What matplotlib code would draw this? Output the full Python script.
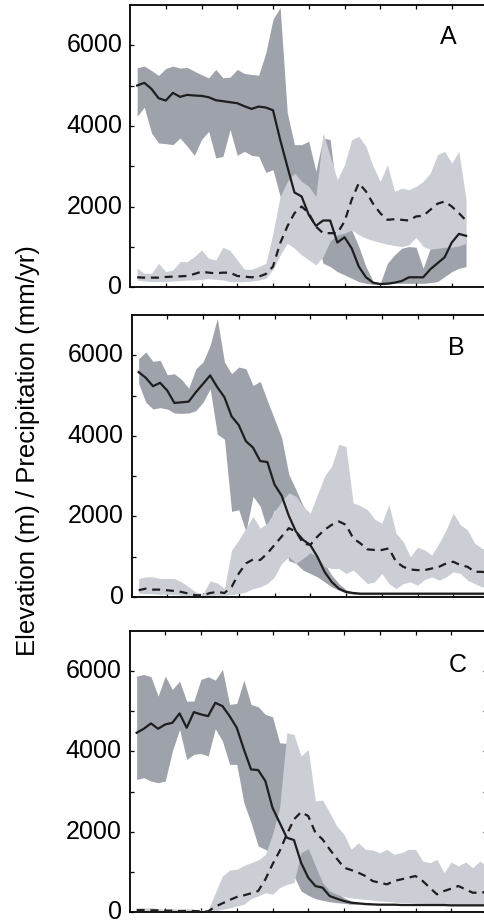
#!/usr/bin/env python3
"""
Swath profiles: elevation (solid, dark band) and precipitation (dashed, light band)
for three transects A, B, C.
"""

import numpy as np
import matplotlib

matplotlib.use("Agg")
import matplotlib.pyplot as plt

plt.rcParams["font.family"] = ["Liberation Sans", "DejaVu Sans"]

# sample positions along the swath (no axis labels in the original)
dist_a = np.arange(1, 48) * 0.2
dist_bc = np.arange(1, 51) * 0.2

# ---- panel A ----
elev_a = [5005, 5071, 4922, 4690, 4632, 4823, 4724, 4773, 4757, 4748,
          4715, 4641, 4616, 4591, 4566, 4492, 4425, 4483, 4459, 4393,
          3664, 3001, 2355, 2256, 1801, 1528, 1660, 1660, 1114, 1246,
          973, 518, 253, 120, 87, 95, 120, 161, 253, 253,
          253, 451, 600, 749, 1114, 1329, 1280]
elev_a_hi = [5445, 5486, 5378, 5254, 5428, 5486, 5436, 5453, 5362, 5271,
             5196, 5403, 5196, 5213, 5403, 5304, 5279, 5262, 5817, 6645,
             6935, 4327, 3540, 3540, 3623, 2877, 3705, 3664, 2173, 1428,
             1428, 1014, 518, 150, 104, 600, 807, 973, 1014, 998,
             476, 973, 1139, 1164, 1263, 1380, 1346]
elev_a_lo = [4244, 4467, 3830, 3581, 3565, 3540, 3705, 3498, 3275, 3664,
             3871, 3209, 3250, 3912, 3275, 3374, 3275, 3250, 2852, 2918,
             2256, 2173, 2173, 2132, 1500, 1300, 600, 518, 393, 311,
             228, 145, 104, 79, 62, 79, 104, 104, 104, 104,
             104, 120, 145, 269, 393, 476, 518]
prec_a = [253, 244, 244, 244, 261, 269, 277, 286, 335, 393,
          368, 352, 368, 368, 286, 269, 253, 269, 335, 518,
          1097, 1511, 1842, 2008, 1842, 1511, 1346, 1346, 1346, 1635,
          2173, 2587, 2381, 2075, 1842, 1677, 1693, 1677, 1660, 1760,
          1776, 1925, 2075, 2132, 2008, 1842, 1660]
prec_a_hi = [476, 352, 352, 600, 393, 435, 642, 642, 766, 931,
             724, 683, 998, 915, 683, 451, 451, 518, 600, 1346,
             2256, 2629, 2836, 2629, 2505, 2256, 3829, 3250, 2670, 3043,
             3664, 3747, 3498, 3001, 2629, 3043, 2381, 2463, 2422, 2505,
             2629, 2836, 3291, 3374, 3084, 3374, 2173]
prec_a_lo = [186, 161, 145, 145, 145, 161, 170, 186, 186, 203,
             220, 203, 186, 145, 145, 145, 161, 186, 228, 450,
             800, 1100, 973, 807, 683, 559, 766, 1150, 1304, 1346,
             1428, 1304, 1222, 1164, 1114, 1073, 1040, 1014, 1056, 1246,
             1014, 948, 973, 998, 998, 1031, 1098]

# ---- panel B ----
elev_b = [5583, 5441, 5233, 5316, 5125, 4817, 4833, 4850, 5083, 5291,
          5500, 5208, 4958, 4483, 4267, 3867, 3708, 3375, 3350, 2792,
          2517, 2017, 1625, 1417, 1292, 1000, 625, 375, 208, 125,
          100, 83, 83, 83, 83, 83, 83, 83, 83, 83,
          83, 83, 83, 83, 83, 83, 83, 83, 83, 83]
elev_b_hi = [5917, 6083, 5850, 5875, 5517, 5542, 5400, 5183, 5667, 5833,
             6250, 6917, 5833, 5542, 5708, 5667, 5250, 5350, 4875, 4417,
             3958, 3042, 2667, 2267, 2000, 1333, 833, 542, 333, 183,
             120, 100, 100, 100, 100, 100, 100, 100, 100, 100,
             100, 100, 100, 100, 100, 100, 100, 100, 100, 100]
elev_b_lo = [5300, 4833, 4667, 4700, 4667, 4567, 4558, 4567, 4625, 4833,
             5167, 4042, 3917, 2125, 2167, 1625, 2500, 2250, 1667, 2167,
             1625, 900, 833, 667, 583, 500, 375, 250, 167, 100,
             67, 58, 58, 58, 58, 58, 58, 58, 58, 58,
             58, 58, 58, 58, 58, 58, 58, 58, 58, 58]
prec_b = [167, 208, 183, 183, 167, 150, 125, 83, 42, 42,
          100, 125, 100, 250, 583, 833, 933, 917, 1083, 1292,
          1500, 1708, 1625, 1333, 1292, 1500, 1667, 1792, 1875, 1792,
          1458, 1333, 1183, 1167, 1167, 1208, 875, 750, 683, 667,
          667, 708, 750, 833, 875, 792, 750, 625, 625, 600]
prec_b_hi = [458, 500, 500, 458, 458, 458, 375, 250, 125, 83,
             400, 350, 208, 1167, 1417, 1708, 2000, 1708, 1833, 2125,
             2375, 2583, 2500, 2250, 2083, 2542, 3000, 3250, 3792, 3733,
             2333, 2267, 2167, 1933, 1833, 2292, 1583, 1375, 1000, 1233,
             1167, 1042, 1333, 1667, 2083, 1792, 1667, 1333, 1208, 1167]
prec_b_lo = [100, 83, 83, 67, 67, 58, 42, 33, 25, 17,
             33, 42, 42, 58, 83, 125, 208, 250, 333, 500,
             833, 1000, 833, 958, 1100, 1000, 750, 708, 708, 583,
             667, 500, 333, 375, 583, 333, 208, 333, 375, 292,
             433, 500, 417, 500, 625, 583, 417, 333, 250, 233]

# ---- panel C ----
elev_c = [4465, 4565, 4698, 4565, 4673, 4714, 4947, 4590, 4980, 4922,
          4880, 5212, 5129, 4880, 4590, 4050, 3552, 3536, 3262, 2598,
          2224, 1851, 1793, 1228, 855, 647, 606, 398, 332, 274,
          232, 216, 199, 191, 183, 183, 183, 174, 174, 174,
          174, 174, 174, 174, 166, 166, 166, 166, 166, 166]
elev_c_hi = [5876, 5918, 5860, 5378, 5876, 5544, 5752, 5254, 5254, 5793,
             5860, 5777, 6042, 5171, 5196, 5777, 5171, 5113, 4922, 4864,
             4216, 4200, 2971, 2141, 1643, 1311, 979, 647, 481, 357,
             274, 240, 220, 210, 200, 200, 200, 190, 190, 190,
             190, 190, 190, 190, 180, 180, 180, 180, 180, 180]
elev_c_lo = [3303, 3345, 3262, 3220, 3262, 4009, 4548, 3801, 3926, 3951,
             3884, 4565, 4258, 3677, 3677, 2722, 2224, 1643, 1560, 1477,
             1311, 1145, 896, 523, 415, 332, 290, 257, 232, 216,
             191, 190, 180, 175, 170, 170, 170, 160, 160, 160,
             160, 160, 160, 160, 155, 155, 155, 155, 155, 155]
prec_c = [50, 50, 42, 42, 33, 33, 25, 25, 25, 17,
          17, 133, 216, 299, 374, 415, 465, 523, 813, 1187,
          1519, 1934, 2307, 2490, 2390, 1975, 1809, 1560, 1328, 1104,
          1046, 979, 896, 772, 730, 689, 772, 813, 855, 896,
          772, 606, 440, 523, 581, 647, 564, 481, 481, 498]
prec_c_hi = [83, 100, 108, 83, 66, 83, 66, 83, 66, 50,
             50, 481, 896, 1046, 1062, 1162, 1228, 1295, 1436, 1934,
             2598, 4465, 4424, 3884, 4050, 2764, 2789, 2473, 2141, 1934,
             1560, 1726, 1560, 1544, 1477, 1560, 1436, 1477, 1560, 1560,
             1270, 1228, 1311, 979, 1245, 1145, 1245, 1104, 1270, 1145]
prec_c_lo = [25, 25, 33, 25, 25, 25, 17, 25, 17, 17,
             17, 25, 66, 100, 149, 191, 332, 400, 481, 440,
             606, 689, 730, 1477, 1577, 1145, 730, 523, 440, 382,
             349, 332, 315, 299, 274, 266, 249, 232, 232, 216,
             216, 208, 191, 191, 183, 183, 174, 174, 166, 166]

panel_labels = ["A", "B", "C"]
yticks_major = [0, 2000, 4000, 6000]

DARK = "#9ea3ab"
LIGHT = "#cbced5"
LINE = "#1e1e1e"


def draw_panel(ax, x, elev, elev_lo, elev_hi, prec, prec_lo, prec_hi, label, label_xy):
    ax.fill_between(x, elev_lo, elev_hi, color=DARK, lw=0, zorder=1)
    ax.fill_between(x, prec_lo, prec_hi, color=LIGHT, lw=0, zorder=2)
    ax.plot(x, elev, color=LINE, lw=1.6, zorder=4)
    ax.plot(x, prec, color=LINE, lw=1.6, ls=(0, (3.6, 2.6)), zorder=4)

    ax.set_xlim(0, 10)
    ax.set_ylim(0, 7000)
    ax.set_xticks(range(1, 10))
    ax.set_xticklabels([])
    ax.set_yticks(yticks_major)
    ax.set_yticks([1000, 3000, 5000], minor=True)
    ax.tick_params(which="both", direction="in", top=True, right=True,
                   length=3.2, width=0.9, labelsize=18, pad=5.5)
    for lbl in ax.get_yticklabels():
        lbl.set_verticalalignment("center")
    for sp in ax.spines.values():
        sp.set_linewidth(1.3)
    ax.text(label_xy[0], label_xy[1], label, fontsize=18, ha="center", va="center")


fig = plt.figure(figsize=(4.84, 9.22), dpi=100)

width = 357.5 / 484
ax_a = fig.add_axes([130 / 484, 1 - 287.5 / 922, width, 282.5 / 922])
ax_b = fig.add_axes([131.5 / 484, 1 - 597 / 922, width, 282 / 922])
ax_c = fig.add_axes([129.5 / 484, 1 - 912 / 922, width, 281 / 922])

draw_panel(ax_a, dist_a, elev_a, elev_a_lo, elev_a_hi, prec_a, prec_a_lo, prec_a_hi,
           panel_labels[0], (8.9, 6200))
draw_panel(ax_b, dist_bc, elev_b, elev_b_lo, elev_b_hi, prec_b, prec_b_lo, prec_b_hi,
           panel_labels[1], (9.08, 6170))
draw_panel(ax_c, dist_bc, elev_c, elev_c_lo, elev_c_hi, prec_c, prec_c_lo, prec_c_hi,
           panel_labels[2], (9.17, 6165))

fig.text(28 / 484, 1 - 451 / 922, "Elevation (m) / Precipitation (mm/yr)",
         rotation=90, ha="center", va="center", fontsize=18.5)

fig.savefig("out.png", dpi=100)
plt.close(fig)
